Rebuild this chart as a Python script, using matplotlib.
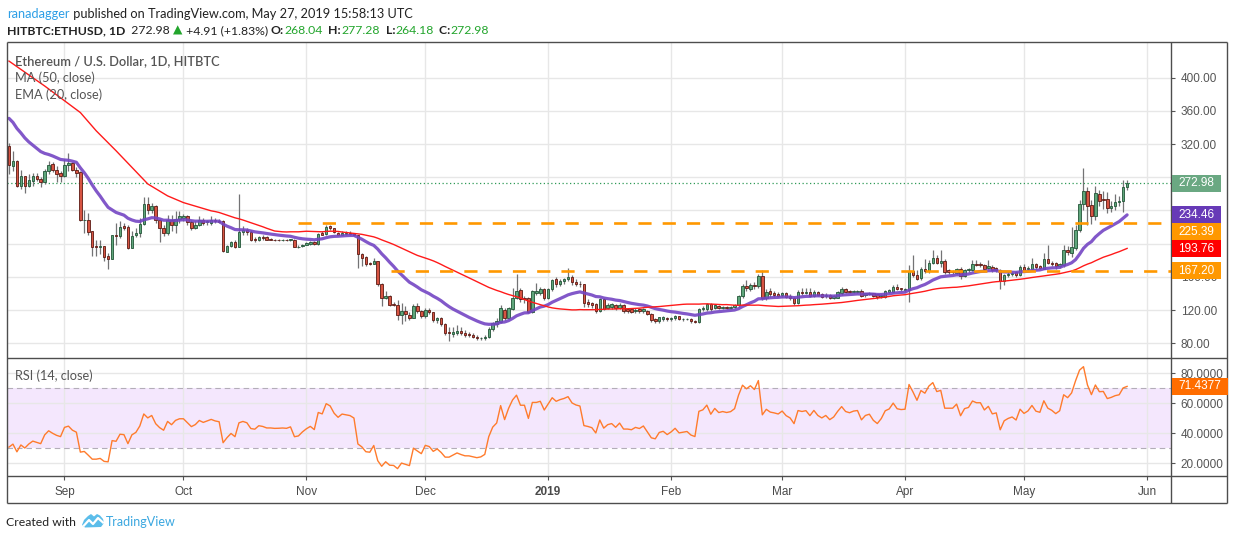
import numpy as np
import pandas as pd
import matplotlib
matplotlib.use("Agg")
import matplotlib.pyplot as plt
import matplotlib.dates as mdates
from matplotlib import font_manager
from matplotlib.patches import Rectangle, Polygon

plt.rcParams['font.family'] = ['Lato', 'DejaVu Sans']
installed = {f.name for f in font_manager.fontManager.ttflist}
narrow = 'Liberation Sans Narrow' if 'Liberation Sans Narrow' in installed else 'Lato'

# HITBTC:ETHUSD daily candles, 2018-08-18 .. 2019-05-27
first_day = "2018-08-18"

opens = [
    318, 293, 300, 270, 282, 270, 276, 282, 278, 274, 287, 296, 289, 285,
    281, 295, 297, 289, 286, 228, 229, 215, 197, 196, 197, 185, 182, 211, 209, 221,
    220, 195, 210, 213, 224, 248, 241, 245, 228, 219, 213, 229, 222, 230,
    231, 233, 226, 219, 222, 228, 226, 225, 229, 227, 227, 190, 197, 202, 196, 214,
    216, 214, 206, 204, 208, 208, 206, 205, 204.8, 204.6, 204.8, 204, 205, 196, 197,
    199, 200, 202, 200, 213, 212, 221, 218.5, 213, 210.5, 212, 212.5, 212, 210.5, 187,
    183.8, 177, 175.5, 179, 151, 134, 137.5, 127.5, 125.8, 113.6, 118.8, 114, 111, 124.8, 118.8,
    112.8, 120, 117.6, 108, 110, 102.8, 93, 91.5, 92, 95, 92, 91.5, 90, 88, 86.4,
    86, 87.2, 97.6, 103, 106, 119.6, 110.8, 121.6, 134, 143.6, 134, 134.8, 118, 140, 140, 144.8,
    134.8, 144.8, 157, 152, 155, 157, 160, 154, 152, 151, 129.6, 128.8, 126.8, 118.8, 132.8,
    122, 124, 126, 122.8, 125.6, 120.8, 120.8, 118.6, 120.8, 118.8, 118.8, 114.8, 108.8, 106.8, 108.8, 110.8,
    108.8, 110.5, 112.8, 108.8, 109.2, 109.6, 106.8, 105.6, 121.6, 120.8, 126.8, 122.4, 124.8, 123,
    123.6, 123, 123.6, 125.6, 136.8, 149.6, 144.8, 150.8, 148.8, 161.6, 134.8, 142.8, 140, 139,
    138, 140, 137, 134.8, 128.8, 142, 141, 142, 137.2, 141.2, 138.8, 136.4, 138, 134.8, 134.8,
    140, 145.2, 142.8, 141.2, 141.2, 142.8, 138, 139, 140, 138.8, 136.8, 136, 142, 142, 148, 146,
    144, 144, 166.8, 162.8, 158.8, 169.2, 166.8, 177.2, 182.8, 177.2, 178.8, 168, 166.8, 165.2, 170,
    161.2, 168, 168, 176, 176, 174.8, 170.8, 172, 170.8, 168.8, 154.8, 162, 164, 166, 162,
    172, 169, 169, 176, 172.8, 170, 182, 176.8, 176.8, 172.8, 174, 192.8, 189, 195,
    216.8, 248, 263.2, 247, 233.2, 260, 253.6, 254, 243.2, 246, 250, 251.2, 268.04,
]
highs = [
    321, 312, 301, 289, 282, 284, 285, 285, 280, 290, 300, 298, 294, 288,
    302, 309, 299, 292, 288, 241, 237, 215, 205, 205, 197, 189, 211, 225, 227, 225,
    223, 215, 219, 231, 256, 256, 249, 247, 230, 223, 235, 235, 239, 239,
    236, 235, 228, 227, 233, 231, 228, 233, 231, 230, 228, 199, 203, 205, 260, 221,
    219, 216, 208, 209, 211, 209, 207, 206, 206, 206, 206, 206, 206, 198, 200,
    202, 203, 203, 213, 215, 222, 222, 219, 214, 215, 215, 215, 213, 211, 189,
    185, 178, 183, 179, 153, 143, 138.7, 130, 132, 128.8, 125, 118, 127, 128, 120,
    122, 123, 118, 112, 112, 105, 100, 100, 102, 100, 96, 94, 92, 90, 88,
    90, 100, 106, 110, 126, 122, 124, 146, 163, 146, 137, 136, 144, 152.8, 148, 146,
    146, 158, 160, 158, 159, 171, 162, 157, 155, 152, 133, 130, 128, 134, 134,
    128, 128, 127, 129, 127, 121, 123, 122, 122, 122, 120, 116, 110, 112, 113, 112,
    112, 114, 113, 110, 110.5, 110, 108, 123, 125, 128, 128, 127, 126, 125,
    125, 124.5, 127, 138, 152, 156, 153, 154, 164, 168.8, 145, 146, 143, 142,
    142, 142, 139, 136, 144, 146, 146, 146, 144, 143, 140, 140, 139, 138, 143,
    148, 147, 144, 144, 144, 145, 141, 142, 141, 139, 139, 144, 145, 150, 152, 147,
    146, 174, 186.8, 168, 172, 181, 180, 192, 186, 192, 181, 170, 168, 171, 172,
    170, 171, 180, 180, 178, 176, 180, 174, 172, 170, 163, 166, 166, 167, 174,
    175, 173, 183, 177, 174, 189, 198, 179, 178, 177, 198, 197, 220, 222,
    253, 291, 268, 253, 270, 265, 264, 262, 252, 260, 258, 277, 277.28,
]
lows = [
    284, 288, 268, 266, 261, 268, 270, 276, 268, 272, 284, 286, 274, 274,
    280, 288, 287, 280, 227, 213, 211, 185, 185, 187, 179, 169, 181, 199, 207, 217,
    193, 195, 208, 208, 223, 236, 237, 225, 202, 209, 211, 215, 213, 225,
    227, 223, 216, 218, 221, 223, 223, 223, 225, 225, 190, 190, 196, 195, 196, 211,
    211, 203, 202, 203, 205, 204, 204, 203, 203, 203.5, 203.5, 203, 196, 195, 196,
    198, 199, 199, 199, 210, 211, 217, 213, 210, 210, 211, 211, 209, 171, 173,
    173, 174, 175, 149, 125, 133, 125, 125, 108.5, 102.8, 107, 108, 110, 116, 110,
    110, 115, 106, 105, 101, 90, 83, 88, 90, 90, 88, 88, 86, 84, 84,
    84, 86, 95, 100, 104, 108, 109, 120, 133, 130, 128, 116, 116, 138, 138, 132,
    133, 143, 148, 149, 152, 155, 150, 149, 148, 124, 124, 122, 117, 118, 120,
    121, 121, 120, 121, 116, 116, 116, 117, 117, 117, 114, 106, 104, 104, 107, 107,
    107, 108, 108, 107, 107.5, 104, 104, 104, 119, 119, 119, 121, 121, 121.5,
    121.5, 121.5, 122, 124, 135, 143, 143, 145, 147, 132, 132, 136, 136, 135.5,
    136, 134, 132, 126, 127, 138, 139, 136, 136, 137, 135, 135, 133, 133, 134,
    138, 141, 140, 140, 140, 136, 136, 138, 136, 133, 135, 135, 141, 141, 144, 143,
    142, 130, 160, 156, 156, 165, 165, 176, 175, 172, 164, 163, 163, 163, 158,
    160, 166, 167, 173, 172, 168, 169, 166, 166, 145, 150, 160, 161, 160, 161,
    167, 167, 168, 170, 169, 169, 175, 173, 170, 171, 172, 186, 184, 192,
    214, 240, 223, 224, 229, 245, 242, 237, 238, 240, 245, 238, 264.18,
]
closes = [
    295, 300, 270, 282, 270, 277, 282, 278, 274, 288, 295, 289, 284, 281,
    295, 297, 289, 285, 228, 229, 214, 196, 196, 197, 184, 182, 211, 209, 220, 219,
    195, 209, 213, 224, 248, 240, 245, 228, 219, 213, 229, 222, 230, 233,
    233, 226, 219, 222, 228, 225, 227, 229, 227, 226, 191, 197, 202, 196, 214, 216,
    214, 205, 204, 208, 207, 205, 205, 204.5, 204.6, 204.8, 204.5, 205.5, 196, 196.5, 199,
    201, 202.5, 200, 212, 211, 220, 218.5, 213.5, 210.5, 213, 212.5, 212, 210.5, 187, 183,
    175.8, 175, 179, 151, 134, 137.5, 126.6, 125.8, 114.6, 118.8, 114.8, 111, 124.8, 118.8, 112.8,
    120, 117.6, 108, 110, 102.8, 92, 92, 93.5, 95, 92, 89.6, 89.5, 88, 86.4, 86.8,
    88, 97.6, 104, 107, 122.8, 110, 122.8, 134.8, 142.8, 132.8, 132.8, 118, 142.8, 142.8, 144.8, 134.8,
    144.8, 156, 152, 155, 157, 160, 154, 152, 151, 128.8, 127.6, 126, 118.8, 132.8, 121.6,
    125.6, 126.8, 122, 126.4, 118.8, 118.8, 118, 120, 118.8, 120.8, 114.8, 108, 106.8, 111.2, 112, 108.8,
    110.5, 112.8, 108.8, 109.2, 109.6, 106.8, 105.6, 121.6, 122.8, 126.8, 120.8, 125.6, 122.8, 123.6,
    123, 123.6, 125.6, 136.8, 148.8, 146.8, 150.8, 148.8, 161.6, 134.8, 141.6, 138.8, 138, 137,
    140, 136, 134, 128.8, 141.2, 140.4, 141.2, 137.2, 142, 138, 136, 138, 134.8, 136.8, 141.2,
    145.2, 142, 141.2, 142.4, 142.8, 137.2, 140, 140.8, 137.2, 135.2, 138, 142.8, 144, 148, 145.2, 144.8,
    145, 166.8, 162.8, 158, 169.2, 167.6, 177.2, 182.8, 177.2, 178.8, 166, 166, 166, 170, 161.2,
    168, 169.2, 176, 174.8, 174.8, 170, 173.2, 168, 168.8, 154.8, 162, 164, 165.2, 162.8, 172,
    168.8, 171, 176, 172, 171.2, 182, 176.8, 175.2, 172.8, 175.2, 192, 190, 196, 216.8,
    248, 263.2, 244.8, 233.2, 261.2, 252, 252.8, 243.2, 246, 250, 252, 268.8, 272.98,
]

ema_seed = 351.0
ma50_early_dates = ["2018-08-18", "2018-08-27", "2018-09-05", "2018-09-09", "2018-09-14",
                    "2018-09-18", "2018-09-22", "2018-09-27", "2018-10-01"]
ma50_early_vals = [420, 390, 358, 336, 312, 292, 272, 257.6, 249.5]
rsi_seed_gain, rsi_seed_loss = 4.0, 9.0

levels = [225.39, 167.20]
level_starts = ["2018-10-29 20:00", "2018-11-22 08:00"]
last_price = 272.98
last_rsi = 71.4377
hidden_price_ticks = [200, 240, 280]   # covered by the value tags

W, H = 1234, 540
fig = plt.figure(figsize=(W / 100, H / 100), dpi=100)


def box(x0, y0, x1, y1):
    return [x0 / W, 1 - y1 / H, (x1 - x0) / W, (y1 - y0) / H]


ax = fig.add_axes(box(7, 42, 1171, 358.3))
axr = fig.add_axes(box(7, 358.3, 1171, 476), sharex=ax)
over = fig.add_axes([0, 0, 1, 1], facecolor='none')
over.set_xlim(0, W)
over.set_ylim(H, 0)
over.axis('off')

days = pd.date_range(first_day, periods=len(closes), freq='D')
x = mdates.date2num(days)
xmin, xmax = x[0] - 0.5, x[0] + 293.07

o, hi, lo, c = map(np.array, (opens, highs, lows, closes))
up = c >= o

# --- price pane ---
ax.vlines(x, lo, hi, color='#737375', lw=0.9, zorder=2)
ax.bar(x, np.maximum(np.abs(c - o), 0.4), bottom=np.minimum(o, c), width=0.62,
       color=['#5fa67b' if u else '#d75442' for u in up],
       edgecolor=['#225437' if u else '#5b1a13' for u in up], linewidth=0.6, zorder=3)

ema = [ema_seed]
for v in closes[1:]:
    ema.append(ema[-1] + 2 / 21 * (v - ema[-1]))
ax.plot(x, ema, color='#7446c4', lw=2.3, alpha=0.9, zorder=4, solid_capstyle='round')

ma = pd.Series(closes).rolling(50).mean().to_numpy()
ma_x = np.concatenate([mdates.date2num(pd.to_datetime(ma50_early_dates)), x[49:]])
ma_y = np.concatenate([ma50_early_vals, ma[49:]])
ax.plot(ma_x, ma_y, color='#ff1a1a', lw=1.0, zorder=4)

for lvl, d0 in zip(levels, level_starts):
    ax.plot([mdates.datestr2num(d0), xmax], [lvl, lvl], color='#ff9800', lw=1.9,
            ls=(0, (5, 4.2)), zorder=6)
ax.axhline(last_price, color='#2f9a57', ls=(0, (1, 2)), lw=0.9, zorder=1)

ax.set_xlim(xmin, xmax)
ax.set_ylim(61.9, 443.0)
ax.set_yticks(range(80, 401, 40))
ax.yaxis.set_major_formatter(
    plt.FuncFormatter(lambda v, p: "" if round(v) in hidden_price_ticks else f"{v:.2f}"))

# --- RSI pane ---
ag, al = rsi_seed_gain, rsi_seed_loss
rsi = [100 - 100 / (1 + ag / al)]
for d in np.diff(c):
    ag = (ag * 13 + max(d, 0)) / 14
    al = (al * 13 + max(-d, 0)) / 14
    rsi.append(100 - 100 / (1 + ag / al))
axr.axhspan(30, 70, color='#f4e7fd', zorder=0, lw=0)
for lv in (30, 70):
    axr.axhline(lv, color='#b3adb8', ls=(0, (5, 3.5)), lw=0.8, zorder=1)
axr.plot(x, rsi, color='#ff7b2c', lw=1.0, zorder=3)
axr.set_ylim(11.5, 90)
axr.set_yticks([20, 40, 60, 80])
axr.yaxis.set_major_formatter(plt.FuncFormatter(lambda v, p: f"{v:.4f}"))

months = pd.date_range("2018-09-01", "2019-06-01", freq="MS")
axr.set_xticks(mdates.date2num(months))
axr.set_xticklabels(["2019" if m.month == 1 else m.strftime("%b") for m in months])
for t, m in zip(axr.get_xticklabels(), months):
    t.set_fontfamily('Liberation Sans')
    if m.month == 1:
        t.set_fontweight('bold')

for a in (ax, axr):
    a.yaxis.tick_right()
    a.tick_params(axis='y', direction='out', length=3, width=0.8, color='#555555',
                  labelcolor='#555555', labelsize=8.5, pad=4)
    for t in a.get_yticklabels():
        t.set_fontfamily('Liberation Sans')
    a.grid(color='#e7e7e7', lw=1.0)
    a.set_axisbelow(True)
    for s in a.spines.values():
        s.set_visible(False)
ax.tick_params(axis='x', length=0, labelbottom=False)
axr.tick_params(axis='x', direction='out', length=3, width=0.8, color='#555555',
                labelcolor='#4a4a4a', labelsize=8.5, pad=4)

# --- frame ---
fc = '#4d4d4d'
for (x0, y0, x1, y1) in [(7, 42, 1227, 42), (7, 503, 1227, 503), (7, 42, 7, 503),
                         (1227, 42, 1227, 503), (1171, 42, 1171, 503),
                         (7, 358.3, 1227, 358.3), (7, 476, 1227, 476)]:
    over.plot([x0, x1], [y0, y1], color=fc, lw=1.0, solid_capstyle='butt')


def to_px(a, yv):
    return H - a.transData.transform((x[0], yv))[1]


def tag(ypx, text, color, x0=1172, w=49, h=17):
    over.add_patch(Rectangle((x0, ypx - h / 2), w, h, fc=color, ec='none', zorder=5))
    over.text(x0 + w / 2, ypx, text, color='white', ha='center', va='center',
              fontsize=8.5, family='Liberation Sans', zorder=6)


tags = [(last_price, '#6aa882'), (ema[-1], '#673ab7'), (levels[0], '#ff9800'),
        (ma_y[-1], '#ff0000'), (levels[1], '#ff9800')]
tag_text = ["272.98", "234.46", "225.39", "193.76", "167.20"]
prev = -100
for (val, col), txt in sorted(zip(tags, tag_text), key=lambda t: -t[0][0]):
    yp = max(to_px(ax, val), prev + 17)
    tag(yp, txt, col)
    prev = yp
tag(to_px(axr, last_rsi), "71.4377", '#ff6d00', w=56)

# --- texts ---
renderer = fig.canvas.get_renderer()


def runs(x0, y0, parts, size, target, family=None):
    def lay(sz):
        arts, cx = [], x0
        for s, col, wt in parts:
            t = over.text(cx, y0, s, color=col, fontweight=wt, fontsize=sz,
                          va='baseline', ha='left')
            if family:
                t.set_fontfamily([family, 'DejaVu Sans'])
            cx += t.get_window_extent(renderer=renderer).width
            arts.append(t)
        return arts, cx - x0
    arts, width = lay(size)
    for t in arts:
        t.remove()
    lay(size * target / width)


dark = '#222222'
green = '#22a52c'
runs(7, 18, [("ranadagger", '#2e9fe6', 'normal'),
             (" published on TradingView.com, May 27, 2019 15:58:13 UTC", dark, 'normal')],
     11, 405, narrow)
runs(7, 34, [("HITBTC:ETHUSD, 1D", dark, 'bold'), ("  272.98 ", dark, 'normal'),
             ("\u25b2", green, 'normal'), (" +4.91 (+1.83%) ", dark, 'normal'),
             ("O:", dark, 'bold'), ("268.04", green, 'normal'),
             ("  H:", dark, 'bold'), ("277.28", green, 'normal'),
             ("  L:", dark, 'bold'), ("264.18", green, 'normal'),
             ("  C:", dark, 'bold'), ("272.98", green, 'normal')],
     11, 485, narrow)

grey = '#555555'
runs(15, 65, [("Ethereum / U.S. Dollar, 1D, HITBTC", grey, 'semibold')], 10, 205)
runs(15, 82, [("MA (50, close)", grey, 'normal')], 10, 80)
runs(15, 99, [("EMA (20, close)", grey, 'normal')], 10, 87)
runs(15, 380, [("RSI (14, close)", grey, 'normal')], 10, 78)

runs(6, 526, [("Created with", '#222222', 'normal')], 10, 70, narrow)
over.add_patch(Polygon([(82, 525), (84, 520), (88, 516), (91, 514), (94, 516.5), (97, 514),
                        (100, 515.5), (103, 519), (104, 523), (101, 527), (85, 527.5)],
                       closed=True, fc='#5bbdea', ec='none'))
over.plot([84, 89, 93, 98, 103], [525.5, 520, 524, 518, 522.5], color='white', lw=1.6,
          solid_joinstyle='round')
runs(106, 526, [("TradingView", '#3aa7e0', 'normal')], 10, 70, narrow)

fig.savefig("out.png", dpi=100)
